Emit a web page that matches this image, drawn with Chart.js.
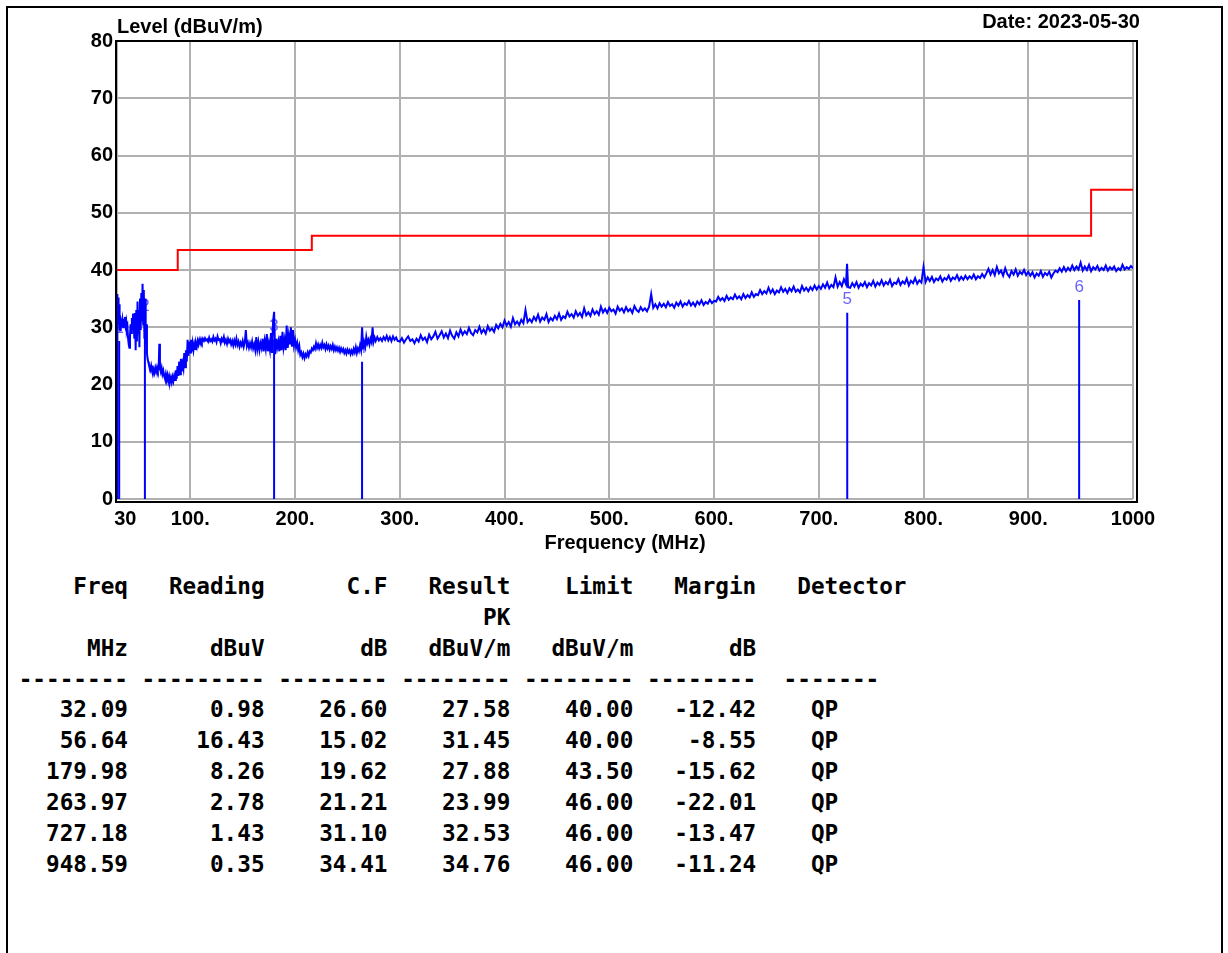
<!DOCTYPE html>
<html><head><meta charset="utf-8">
<script src="https://cdn.jsdelivr.net/npm/chart.js"></script>
<style>
html,body{margin:0;padding:0;background:#fff;width:1228px;height:953px;overflow:hidden;}
#frame{position:absolute;left:6px;top:6px;width:1213px;height:960px;border:2px solid #000;border-bottom:none;}
#chart{position:absolute;left:0;top:0;}
.lbl{position:absolute;font:bold 20px "Liberation Sans",Arial,sans-serif;color:#000;white-space:nowrap;line-height:24px;}
#table{position:absolute;left:18.7px;top:571px;margin:0;font:bold 22.7px "DejaVu Sans Mono",monospace;line-height:30.85px;color:#000;}
</style></head><body>
<div id="frame"></div>
<canvas id="chart" width="1228" height="560"></canvas>
<div class="lbl" style="left:117px;top:14px">Level (dBuV/m)</div>
<div class="lbl" style="right:88px;top:9px">Date: 2023-05-30</div>
<pre id="table"></pre>
<script>
const xTickValues = [30,100,200,300,400,500,600,700,800,900,1000];
const xTickLabels = ['   30','100.','200.','300.','400.','500.','600.','700.','800.','900.','1000'];
const yMin = 0, yMax = 80, yStep = 10;

const limitFreq  = [30, 88, 88, 216, 216, 960, 960, 1000];
const limitLevel = [40, 40, 43.5, 43.5, 46, 46, 54, 54];

const markerNo       = ['1','2','3','4','5','6'];
const markerFreq     = ['32.09','56.64','179.98','263.97','727.18','948.59'];
const markerReading  = ['0.98','16.43','8.26','2.78','1.43','0.35'];
const markerCF       = ['26.60','15.02','19.62','21.21','31.10','34.41'];
const markerResult   = ['27.58','31.45','27.88','23.99','32.53','34.76'];
const markerLimit    = ['40.00','40.00','43.50','46.00','46.00','46.00'];
const markerMargin   = ['-12.42','-8.55','-15.62','-22.01','-13.47','-11.24'];
const markerDetector = ['QP','QP','QP','QP','QP','QP'];

const headRow1 = ['Freq','Reading','C.F','Result','Limit','Margin','Detector'];
const headRow2 = ['','','','PK','','',''];
const headRow3 = ['MHz','dBuV','dB','dBuV/m','dBuV/m','dB',''];

// measured trace [MHz, dBuV/m]
const trace = [
[30,0],[30.2,35.8],[30.5,34.5],[31,35.2],[31.5,30.5],[32,34],[32.5,29.5],[33,31],[33.5,29.3],[34,30.8],
[34.6,30.2],[35.2,31.2],[35.8,30],[36.4,31.5],[37,30.6],[37.6,31.8],[38.2,30.4],[38.8,31],[39.4,29.5],[40,30],
[40.6,28],[41.2,27],[41.8,26.4],[42.4,28.5],[43,30.5],[43.6,29],[44.2,31.6],[44.8,30.2],[45.4,32.4],[46,30],
[46.6,28],[47.2,32.5],[47.8,26],[48.4,33],[49,27.5],[49.6,34.5],[50.2,29],[50.8,33],[51.4,26.5],[52,35],
[52.6,29.5],[53.2,36],[53.8,31],[54.4,37.6],[55,30.5],[55.6,36.5],[56.2,28],[56.8,35],[57.4,27],[58,30.5],
[58.6,25.5],[59.2,24.5],[59.8,24],[60.4,23.5],[61,23.2],[61.8,22.6],[62.6,23.3],[63.4,22.4],[64.2,21.8],[65,22.6],
[65.8,22],[66.6,22.9],[67.4,22.3],[68.2,23],[69,22.4],[69.8,23],[70.4,27.1],[71,22.8],[71.8,22.2],[72.6,22.9],
[73.4,21.8],[74.2,22.4],[75,21.5],[75.8,21],[76.6,21.8],[77.4,20.8],[78.2,21.6],[79,20.6],[79.8,21.4],[80.6,20.5],
[81.4,21.2],[82.2,20.4],[83,21.3],[83.8,20.6],[84.6,21.5],[85.4,20.8],[86.2,22.5],[87,21],[87.8,23.2],[88.6,21.5],
[89.4,24],[90.2,21.8],[91,24.5],[91.8,22.3],[92.6,23.6],[93.4,22.8],[94.2,25.5],[95,23],[95.8,26],[96.6,24],
[97.4,27.8],[98.2,25],[99,27.5],[99.8,25.6],[100.6,27.8],[101.4,25.8],[102.2,27.2],[103,26],[103.8,27],[104.6,26.2],
[105.4,27.2],[106.2,26.6],[107,27.6],[107.8,27],[108.6,27.8],[109.4,27.3],[110.2,27.9],[111,27.4],[112,28],[113,27.6],
[114,28.1],[115,27.7],[116,27.9],[117,27.5],[118,28.2],[119,27.6],[120,27.9],[121,27.5],[122,28.3],[123,27.7],
[124,28],[125,27.4],[126,28.4],[127,27.8],[128,27.9],[129,27.2],[130,28],[131,27.6],[132,28.3],[133,27.3],
[134,27.8],[135,27.1],[136,28],[137,27.4],[138,27.8],[139,27],[140,27.6],[141,26.8],[142,27.7],[143,27],
[144,28],[145,26.9],[146,27.5],[147,26.6],[148,27.3],[149,26.8],[150,27.6],[151,26.6],[152,27.4],[153,29.5],
[154,26.7],[155,27.3],[156,26.4],[157,27.2],[158,26.5],[159,27.5],[160,26.3],[161,27],[162,26],[163,28.3],
[164,26.2],[165,27.4],[166,26],[167,27.2],[168,26.4],[169,28],[170,25.8],[171,27.6],[172,26.3],[173,28.8],
[174,25.8],[175,27.2],[176,26],[177,29],[178,25.5],[179,31],[180,32.7],[181,25.3],[182,28],[183,26.5],
[184,27.5],[185,25.8],[186,28.5],[187,26],[188,29.2],[189,26.5],[190,27.8],[191,26],[192,30.3],[193,26.4],
[194,28.5],[195,27],[196,30],[197,26.6],[198,29.5],[199,26.8],[200,27.8],[201,26.5],[202,27.3],[203,26],
[204,26.8],[205,25.2],[206,25.6],[207,24.8],[208,25.4],[209,24.6],[210,25.3],[211,24.9],[212,25.6],[213,25],
[214,25.8],[215,25.6],[216,26.3],[217,26],[218,26.6],[219,26.2],[220,27.2],[221,26.4],[222,27],[223,26.3],
[224,26.9],[225,26.4],[226,27.3],[227,26.5],[228,26.9],[229,26.2],[230,27],[231,26.3],[232,26.8],[233,26.1],
[234,26.7],[235,26.2],[236,26.9],[237,26],[238,26.6],[239,26],[240,26.5],[241,25.9],[242,26.4],[243,25.7],
[244,26.3],[245,25.8],[246,26.2],[247,25.5],[248,26],[249,25.4],[250,26.1],[251,25.6],[252,26],[253,25.3],
[254,25.9],[255,25.4],[256,26.2],[257,25.6],[258,26.5],[259,25.5],[260,26.3],[261,25.8],[262,26.8],[263,26],
[264,30],[265,26.2],[266,27.4],[267,26.6],[268,28.3],[269,27.2],[270,27.8],[271,27],[272,28],[273,27.4],
[274,30],[275,27.5],[276,28.2],[277,27.6],[278.5,28.3],[280,27.7],[281.5,28.1],[283,27.6],[284.5,28.3],[286,27.8],
[287.5,28.5],[289,27.7],[290.5,28.3],[292,27.6],[293.5,28.4],[295,27.8],[296.5,28.2],[298,27.6],
[300,27.5],[302,28.1],[304,27.3],[306,27.9],[308,28.4],[310,27.6],[312,27.9],[314,27.2],[316,28],[318,27.5],
[320,28.6],[322,27.8],[324,28.2],[326,27.4],[328,28.7],[330,27.9],[332,28.4],[334,29.2],[336,28],[338,28.6],
[340,29.3],[342,28.2],[344,28.9],[346,28.1],[348,29.4],[350,28.5],[352,28],[354,29.1],[356,28.4],[358,29.6],
[360,28.7],[362,29.3],[364,28.8],[366,29.9],[368,29],[370,28.6],[372,29.5],[374,29.1],[376,30.1],[378,29],
[380,29.6],[382,28.9],[384,30.2],[386,29.4],[388,29.8],[390,29.2],[392,30.4],[394,29.8],[396,30.6],[398,30],
[400,31.2],[402,30.3],[404,30.9],[406,30.1],[408,31.6],[410,30.5],[412,31],[414,30.4],[416,31.3],[418,30.7],
[420,33],[422,30.9],[424,31.4],[426,30.9],[428,31.8],[430,31.2],[432,32.2],[434,31],[436,31.7],[438,31.3],
[440,32.3],[442,30.9],[444,31.6],[446,31.2],[448,32],[450,31.4],[452,32.4],[454,31.3],[456,31.9],[458,31.6],
[460,32.7],[462,31.9],[464,32.3],[466,31.7],[468,32.8],[470,32],[472,32.5],[474,31.8],[476,33.3],[478,32.1],
[480,32.6],[482,32],[484,33.1],[486,32.3],[488,32.8],[490,32.2],[492,33.6],[494,32.6],[496,33.2],[498,32.5],
[500,33.4],[502,32.8],[504,33.1],[506,32.4],[508,33.6],[510,32.9],[512,33.3],[514,32.6],[516,33.5],[518,32.8],
[520,33.2],[522,32.5],[524,33.7],[526,33],[528,32.7],[530,33.5],[532,32.9],[534,33.3],[536,32.8],[538,33.6],
[540,35.8],[542,33.4],[544,34],[546,33.3],[548,34.2],[550,33.6],[552,34.1],[554,33.5],[556,34.4],[558,33.7],
[560,34],[562,33.4],[564,34.3],[566,33.8],[568,34.5],[570,33.6],[572,34.2],[574,33.9],[576,34.6],[578,33.8],
[580,34.3],[582,33.7],[584,34.5],[586,34],[588,34.7],[590,33.9],[592,34.4],[594,34.1],[596,34.8],[598,34.2],
[600,34.6],[602,34.5],[604,35.3],[606,34.7],[608,35.1],[610,34.6],[612,35.5],[614,34.8],[616,35.2],[618,34.9],
[620,35.7],[622,35],[624,35.4],[626,34.9],[628,35.8],[630,35.1],[632,35.6],[634,35.2],[636,36.1],[638,35.3],
[640,35.8],[642,35.6],[644,36.5],[646,35.8],[648,36.3],[650,35.9],[652,36.9],[654,36],[656,36.6],[658,35.8],
[660,36.4],[662,36.1],[664,37],[666,36.2],[668,36.7],[670,36],[672,36.8],[674,36.3],[676,37.1],[678,36.2],
[680,36.6],[682,36.1],[684,37.2],[686,36.4],[688,36.9],[690,36.3],[692,37],[694,36.5],[696,37.3],[698,36.6],
[700,37.2],[702,36.7],[704,37.5],[706,36.9],[708,37.8],[710,36.8],[712,37.4],[714,37],[716,38.7],[718,37.1],
[720,37.9],[722,37.2],[724,38.4],[726,37.5],[727,41.1],[728,37],[730,36.9],[732,37.7],[734,37.1],[736,37.9],
[738,36.9],[740,37.6],[742,37.2],[744,37.9],[746,37],[748,37.7],[750,37.3],[752,38.1],[754,37.1],[756,37.8],
[758,37.4],[760,38.2],[762,37.3],[764,37.9],[766,37.5],[768,38.3],[770,37.2],[772,37.8],[774,37.6],[776,38.4],
[778,37.4],[780,38],[782,37.6],[784,38.5],[786,37.3],[788,38.1],[790,37.7],[792,38.6],[794,37.6],[796,38.2],
[798,37.8],[800,40.5],[802,37.9],[804,38.7],[806,38.1],[808,38.8],[810,37.9],[812,38.5],[814,38.2],[816,38.9],
[818,38],[820,38.6],[822,38.3],[824,39],[826,38.1],[828,38.7],[830,38.4],[832,39.1],[834,38.2],[836,38.8],
[838,38.3],[840,39],[842,38.4],[844,38.9],[846,38.5],[848,39.2],[850,38.4],[852,38.9],[854,38.6],[856,39.3],
[858,38.7],[860,39.4],[862,40.2],[864,39.2],[866,40],[868,39.1],[870,40.5],[872,39.4],[874,39.9],[876,39],
[878,40.3],[880,39.3],[882,38.8],[884,39.8],[886,39.2],[888,40.1],[890,39],[892,39.7],[894,39.3],[896,40],
[898,39.1],[900,39.7],[902,39],[904,39.6],[906,38.7],[908,39.4],[910,39],[912,39.8],[914,38.8],[916,39.5],
[918,39.1],[920,39.7],[922,38.7],[924,39.4],[926,39.9],[928,39.6],[930,40.3],[932,39.7],[934,40.5],[936,39.8],
[938,40.4],[940,39.9],[942,40.8],[944,40],[946,40.6],[948,40.1],[950,41.3],[952,39.9],[954,40.6],[956,40],
[958,40.9],[960,39.8],[962,40.5],[964,40.1],[966,40.7],[968,39.9],[970,40.4],[972,40],[974,40.8],[976,39.9],
[978,40.5],[980,40.1],[982,40.6],[984,39.8],[986,40.3],[988,40],[990,40.9],[992,40.1],[994,40.5],[996,40.2],
[998,40.7],[1000,40.3]
];

const FONT = '"Liberation Sans", Arial, sans-serif';

const traceData = trace.map(p => ({x: p[0], y: p[1]}));
const limitData = limitFreq.map((f, i) => ({x: f, y: limitLevel[i]}));
const markerData = [];
markerFreq.forEach((f, i) => {
  markerData.push({x: +f, y: 0}, {x: +f, y: +markerResult[i]}, {x: +f, y: null});
});

const framePlugin = {
  id: 'frame',
  afterDraw(chart) {
    const {ctx, chartArea: a} = chart;
    ctx.save();
    ctx.strokeStyle = '#000';
    ctx.lineWidth = 2;
    ctx.strokeRect(a.left - 1, a.top, a.right - a.left + 5, a.bottom - a.top + 3);
    ctx.restore();
  }
};
const markerLabelPlugin = {
  id: 'markerLabels',
  beforeDatasetsDraw(chart) {
    const {ctx, scales: {x, y}} = chart;
    ctx.save();
    ctx.font = '17px ' + FONT;
    ctx.fillStyle = '#6b62ff';
    ctx.textAlign = 'center';
    ctx.textBaseline = 'middle';
    markerFreq.forEach((f, i) => {
      ctx.fillText(markerNo[i], x.getPixelForValue(+f), y.getPixelForValue(+markerResult[i]) - 13);
    });
    ctx.restore();
  }
};

new Chart(document.getElementById('chart'), {
  type: 'line',
  data: {
    datasets: [
      {label: 'Limit', data: limitData, borderColor: '#ff0000', borderWidth: 2, pointRadius: 0, order: 1},
      {label: 'Markers', data: markerData, borderColor: '#0000ff', borderWidth: 2, pointRadius: 0, spanGaps: false, order: 2},
      {label: 'Level', data: traceData, borderColor: '#0000ff', borderWidth: 2, pointRadius: 0, order: 3}
    ]
  },
  options: {
    responsive: false,
    animation: false,
    devicePixelRatio: 1,
    layout: {padding: {top: 41, right: 95, left: 0, bottom: 0}},
    plugins: {legend: {display: false}, tooltip: {enabled: false}},
    scales: {
      x: {
        type: 'linear', min: 30, max: 1000,
        afterBuildTicks: s => { s.ticks = xTickValues.map(v => ({value: v})); },
        afterFit: s => { s.height = 61; },
        ticks: {
          callback: (v, i) => xTickLabels[i],
          font: {family: FONT, weight: 'bold', size: 20},
          color: '#000', padding: 8, maxRotation: 0, autoSkip: false
        },
        grid: {color: '#b0b0b0', lineWidth: 2, drawTicks: false},
        border: {display: false},
        title: {display: true, text: 'Frequency (MHz)', color: '#000',
                font: {family: FONT, weight: 'bold', size: 20}, padding: {top: 0, bottom: 5}}
      },
      y: {
        min: yMin, max: yMax,
        afterFit: s => { s.width = 117; },
        ticks: {stepSize: yStep, font: {family: FONT, weight: 'bold', size: 20}, color: '#000', padding: 4},
        grid: {color: '#b0b0b0', lineWidth: 2, drawTicks: false},
        border: {display: false}
      }
    }
  },
  plugins: [framePlugin, markerLabelPlugin]
});

// result table
const rp = (s, w) => String(s).padStart(w, ' ');
const widths = [8, 10, 9, 9, 9, 9];
function row(cells, last) {
  let s = '';
  for (let i = 0; i < 6; i++) s += rp(cells[i], widths[i]);
  return s + last;
}
const lines = [];
lines.push(row(headRow1, '   ' + headRow1[6]));
lines.push(row(headRow2, '').replace(/\s+$/, ''));
lines.push(row(headRow3, '').replace(/\s+$/, ''));
lines.push('-'.repeat(8) + ' ' + '-'.repeat(9) + (' ' + '-'.repeat(8)).repeat(4) + '  ' + '-'.repeat(7));
markerFreq.forEach((f, i) => {
  lines.push(row([f, markerReading[i], markerCF[i], markerResult[i], markerLimit[i], markerMargin[i]], '    ' + markerDetector[i]));
});
document.getElementById('table').textContent = lines.join('\n');
</script>
</body></html>
